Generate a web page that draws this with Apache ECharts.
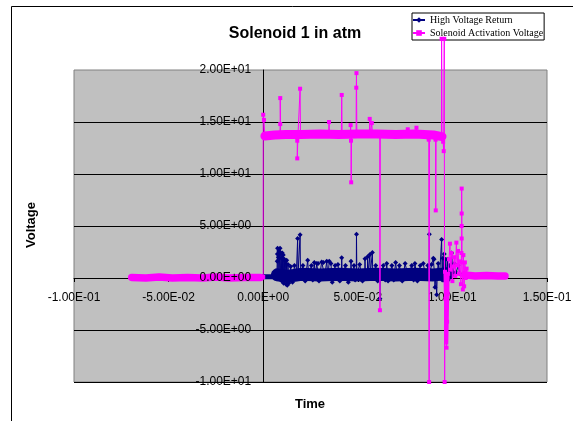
<!DOCTYPE html>
<html lang="en">
<head>
<meta charset="UTF-8">
<title>Solenoid 1 in atm</title>
<script src="https://cdn.jsdelivr.net/npm/echarts@6/dist/echarts.min.js"></script>
<style>
    html, body { margin: 0; padding: 0; background: #fff; }
    #main { width: 573px; height: 421px; }
</style>
</head>
<body>
<div id="main"></div>
<script>
// tick values of the two axes
var xTicks = [-0.1, -0.05, 0, 0.05, 0.1, 0.15];
var yTicks = [-10, -5, 0, 5, 10, 15, 20];

var hvName = 'High Voltage Return';
var solName = 'Solenoid Activation Voltage';

// High Voltage Return: [time, volts]
var hvLead = [[0.0, 0.12], [0.0073, 0.12]];
var hvBand = [[0.0075, 0.3], [0.013, 0.15], [0.02, 0.35], [0.03, 0.3], [0.04, 0.35], [0.05, 0.3],
    [0.06, 0.35], [0.07, 0.3], [0.08, 0.35], [0.09, 0.3], [0.0975, 0.4]];
var hvTrace = [
    [0.0, 0.12], [0.0072, 0.12],
    [0.0074, 1.6], [0.0075, 2.3], [0.0076, 2.85], [0.0078, 0.3],
    [0.0080, 2.0], [0.0082, 2.6], [0.0084, 0.2],
    [0.0087, 2.3], [0.0089, 2.85], [0.0091, 0.0],
    [0.0094, 2.4], [0.0096, 1.9], [0.0098, -0.3],
    [0.0101, 2.4], [0.0103, 0.1],
    [0.0106, 2.2], [0.0108, -0.5],
    [0.0112, 1.8], [0.0114, 0.0],
    [0.0118, 1.6], [0.0121, -0.6],
    [0.0124, 1.7], [0.0127, -0.7],
    [0.0131, 1.3], [0.0135, -0.5],
    [0.0145, 1.1], [0.0155, -0.4],
    [0.0165, 1.2], [0.0175, 0.2],
    [0.0181, 0.3], [0.0182, 3.8], [0.0184, 0.3],
    [0.0194, 0.3], [0.0195, 4.15], [0.0197, 0.3],
    [0.0210, 1.2], [0.0222, -0.3],
    [0.0235, 1.7], [0.0240, 0.3],
    [0.0255, 1.2], [0.0262, -0.2], [0.0270, 1.5], [0.0275, 0.2],
    [0.0283, 1.4], [0.0290, 1.4], [0.0295, -0.3],
    [0.0309, 1.55], [0.0318, 1.5], [0.0325, 0.2],
    [0.0336, 1.6], [0.0342, 0.0], [0.0349, 1.6], [0.0358, 1.4], [0.0365, -0.4],
    [0.0380, 1.2], [0.0395, 1.3], [0.0405, -0.3],
    [0.0414, 0.3], [0.0415, 1.95], [0.0417, 0.3],
    [0.0435, 1.2], [0.0450, -0.4],
    [0.0463, 0.3], [0.0464, 1.6], [0.0466, 0.3],
    [0.0480, 1.2], [0.0486, -0.2],
    [0.0492, 0.3], [0.0493, 4.2], [0.0495, 0.3],
    [0.0510, 1.3], [0.0525, -0.3],
    [0.0537, 0.4], [0.0538, 1.85], [0.0540, 0.4], [0.0551, 0.4], [0.0552, 2.05], [0.0554, 0.4],
    [0.0563, 0.4], [0.0564, 2.25], [0.0566, 0.4], [0.0576, 0.4], [0.0577, 2.45], [0.0579, 0.3],
    [0.0595, 1.2], [0.0605, -0.3],
    [0.0616, 0.3], [0.0617, -2.0], [0.0619, 0.3],
    [0.0635, 1.2], [0.0645, -0.2], [0.0653, 1.4], [0.0660, -0.3],
    [0.0680, 1.2], [0.0690, -0.2], [0.0700, 1.5], [0.0708, 0.2],
    [0.0720, 1.2], [0.0735, -0.3], [0.0750, 1.4], [0.0765, 0.2],
    [0.0785, 1.2], [0.0795, -0.2], [0.0802, 1.4], [0.0815, -0.3],
    [0.0830, 1.2], [0.0846, 1.4], [0.0860, 0.0],
    [0.0870, 1.2], [0.0877, 0.3], [0.0878, 4.2], [0.0880, 0.3],
    [0.0890, 1.3], [0.0899, 1.9], [0.0903, 1.8], [0.0906, 0.2], [0.0908, -0.9], [0.0912, 0.4],
    [0.0917, -1.6], [0.0920, 0.4],
    [0.0925, 1.4], [0.0932, 0.2],
    [0.0942, 0.2], [0.0943, 3.7], [0.0946, -0.2], [0.0950, 1.9], [0.0954, -0.2], [0.0957, 2.3],
    [0.0960, -0.2], [0.0965, 1.8], [0.0970, -0.2], [0.0975, 1.8], [0.0978, -0.2],
    [0.0984, 1.2], [0.0990, 0.4], [0.0996, 2.4], [0.1002, 0.6], [0.1010, 1.4], [0.1020, 0.5],
    [0.1030, 1.2], [0.1040, 0.4]
];

// Solenoid Activation Voltage
var solBandLow = [[-0.0695, 0.05], [-0.062, 0.0], [-0.055, 0.1], [-0.048, 0.0], [-0.04, 0.05],
    [-0.032, 0.0], [-0.025, 0.1], [-0.018, 0.0], [-0.01, 0.05], [-0.0015, 0.05]];
var solBandHigh = [[0.0009, 13.65], [0.006, 13.75], [0.012, 13.8], [0.02, 13.8], [0.03, 13.85],
    [0.04, 13.8], [0.05, 13.85], [0.06, 13.85], [0.07, 13.8], [0.08, 13.85], [0.09, 13.75], [0.0945, 13.6]];
var solDip = [[0.0962, 0.5], [0.0969, -6.4], [0.0976, 0.2]];
var solBandPost = [[0.1065, 0.3], [0.112, 0.2], [0.118, 0.25], [0.124, 0.2], [0.1278, 0.2]];
var solTrace = [
    [-0.0012, 0.05], [0.0, 0.1], [0.0, 15.7], [0.0004, 15.2], [0.0008, 13.7],
    [0.0088, 13.8], [0.009, 14.8], [0.009, 17.3], [0.0092, 13.8],
    [0.0178, 13.8], [0.018, 13.2], [0.018, 11.5], [0.0184, 13.8],
    [0.0193, 13.8], [0.0195, 18.2], [0.0197, 13.8],
    [0.0346, 13.8], [0.0348, 15.0], [0.035, 13.8],
    [0.0413, 13.8], [0.0415, 17.6], [0.0417, 13.8],
    [0.0461, 13.8], [0.0462, 14.7], [0.0464, 13.2], [0.0465, 9.2], [0.0467, 13.8],
    [0.0491, 13.8], [0.0492, 18.3], [0.0493, 19.7], [0.0495, 13.8],
    [0.0561, 13.8], [0.0563, 15.3], [0.0566, 13.8], [0.0572, 13.8], [0.0574, 14.9], [0.0577, 13.8],
    [0.0616, 13.8], [0.0617, -3.1], [0.0619, 13.8],
    [0.0762, 13.8], [0.0764, 14.3], [0.0767, 13.8],
    [0.0808, 13.8], [0.081, 14.45], [0.0813, 13.8],
    [0.0875, 13.3], [0.0877, -10], [0.0879, 13.6],
    [0.0911, 13.3], [0.0912, 6.5], [0.0914, 13.6],
    [0.0942, 13.7], [0.0943, 23.0], [0.0945, 13.75],
    [0.0951, 13.1], [0.0954, 12.2], [0.0957, 23.0], [0.0959, -10],
    [0.0961, 0.6], [0.0963, -2.0], [0.0966, -4.8], [0.0969, -6.7], [0.0972, -4.2], [0.0975, -1.5], [0.0978, 0.4],
    [0.0982, 1.8], [0.0987, 3.3], [0.0990, 0.8], [0.0995, 2.4], [0.1000, -0.3], [0.1005, 1.1],
    [0.1010, 2.0], [0.1015, 0.2], [0.1021, 3.4], [0.1025, 1.2], [0.1030, 2.6], [0.1035, 0.4],
    [0.1040, 1.6], [0.1045, -0.6], [0.1048, 2.4], [0.1049, 3.8], [0.1049, 5.0], [0.1049, 6.2],
    [0.1049, 8.6], [0.1051, 1.5], [0.1055, -1.1], [0.1058, 2.2], [0.1062, -0.8], [0.1066, 1.5],
    [0.1070, 0.0], [0.1075, 0.9], [0.1080, 0.2]
];

var navy = '#000080';
var pink = '#FF00FF';
var sans = '"Liberation Sans", Arial, sans-serif';

var gridW = 473, gridH = 312;

// Excel style scientific labels, e.g. 5.00E-02
function sci(v) {
    if (Math.abs(v) < 1e-12) return '0.00E+00';
    var e = Math.floor(Math.log10(Math.abs(v)) + 1e-9);
    var m = v / Math.pow(10, e);
    var a = Math.abs(e);
    return m.toFixed(2) + 'E' + (e < 0 ? '-' : '+') + (a < 10 ? '0' + a : a);
}

function band(name, data, color, width, z) {
    return {
        name: name, type: 'line', data: data, z: z, symbol: 'none',
        lineStyle: {color: color, width: width, cap: 'round'},
        itemStyle: {color: color}, emphasis: {disabled: true}, silent: true
    };
}

var xMin = xTicks[0], xMax = xTicks[xTicks.length - 1];
var yMin = yTicks[0], yMax = yTicks[yTicks.length - 1];
// axes cross at zero: shift them in from the grid edges
var xZeroShift = gridW * (0 - xMin) / (xMax - xMin);
var yZeroShift = gridH * (0 - yMin) / (yMax - yMin);

var option = {
    animation: false,
    backgroundColor: '#fff',
    grid: {
        left: 74, top: 70, width: gridW, height: gridH,
        show: true, backgroundColor: '#C0C0C0', borderColor: '#808080', borderWidth: 1,
        containLabel: false, outerBoundsMode: 'none'
    },
    legend: {
        data: [hvName, solName], orient: 'vertical', left: 412, top: 13,
        padding: [2, 1, 2, 0], itemGap: 3, itemWidth: 12, itemHeight: 7,
        backgroundColor: '#fff', borderColor: '#000', borderWidth: 1, borderRadius: 0,
        selectedMode: false,
        textStyle: {fontFamily: '"Liberation Serif", "Times New Roman", serif', fontSize: 10, color: '#000'}
    },
    xAxis: {
        type: 'value', min: xMin, max: xMax, interval: xTicks[1] - xTicks[0],
        position: 'bottom', offset: -yZeroShift,
        axisLine: {show: true, onZero: false, lineStyle: {color: '#000', width: 1}},
        axisTick: {show: true, length: 4, lineStyle: {color: '#000'}},
        axisLabel: {margin: 14, color: '#000', fontFamily: sans, fontSize: 12, formatter: sci},
        splitLine: {show: false}
    },
    yAxis: [{
        // labels, drawn above the traces
        type: 'value', min: yMin, max: yMax, interval: yTicks[1] - yTicks[0], z: 10,
        position: 'left', offset: -xZeroShift,
        axisLine: {show: false, onZero: false},
        axisTick: {show: false},
        axisLabel: {margin: 12, color: '#000', fontFamily: sans, fontSize: 12, formatter: sci},
        splitLine: {show: false}
    }, {
        // axis line and gridlines, under the traces
        type: 'value', min: yMin, max: yMax, interval: yTicks[1] - yTicks[0], z: 0,
        axisLine: {show: true, onZero: true, onZeroAxisIndex: 0, lineStyle: {color: '#000', width: 1}},
        axisTick: {show: false},
        axisLabel: {show: false},
        splitLine: {show: true, showMaxLine: false, lineStyle: {color: '#000', width: 1}}
    }],
    series: [
        {
            name: hvName, type: 'line', data: hvTrace, z: 3,
            symbol: 'diamond', symbolSize: 5, showSymbol: true,
            lineStyle: {color: navy, width: 1}, itemStyle: {color: navy},
            emphasis: {disabled: true}, silent: true
        },
        band(hvName, hvBand, navy, 13, 2),
        band(hvName, hvLead, navy, 5, 2),
        {
            name: solName, type: 'line', data: solTrace, z: 5, clip: false,
            symbol: 'rect', symbolSize: 4, showSymbol: true,
            lineStyle: {color: pink, width: 1}, itemStyle: {color: pink},
            emphasis: {disabled: true}, silent: true
        },
        band(solName, solBandLow, pink, 7.5, 4),
        band(solName, solBandHigh, pink, 9, 4),
        band(solName, solDip, pink, 3.5, 4),
        band(solName, solBandPost, pink, 7.5, 4)
    ],
    graphic: [
        {
            type: 'rect', silent: true, z: -1,
            shape: {x: 11.5, y: 6.5, width: 600, height: 450},
            style: {fill: null, stroke: '#000', lineWidth: 1}
        },
        {
            type: 'text', x: 295, y: 34, silent: true,
            style: {text: 'Solenoid 1 in atm', font: 'bold 16px ' + sans, fill: '#000',
                align: 'center', verticalAlign: 'middle', textAlign: 'center', textVerticalAlign: 'middle'}
        },
        {
            type: 'text', x: 31, y: 225, rotation: Math.PI / 2, silent: true,
            style: {text: 'Voltage', font: 'bold 13px ' + sans, fill: '#000',
                align: 'center', verticalAlign: 'middle', textAlign: 'center', textVerticalAlign: 'middle'}
        },
        {
            type: 'text', x: 310, y: 404, silent: true,
            style: {text: 'Time', font: 'bold 13px ' + sans, fill: '#000',
                align: 'center', verticalAlign: 'middle', textAlign: 'center', textVerticalAlign: 'middle'}
        }
    ]
};

var myChart = echarts.init(document.getElementById('main'), null, {renderer: 'canvas'});
myChart.setOption(option);
</script>
</body>
</html>
